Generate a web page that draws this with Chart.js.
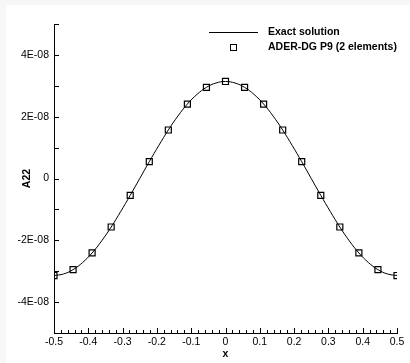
<!DOCTYPE html>
<html>
<head>
<meta charset="utf-8">
<script src="https://cdn.jsdelivr.net/npm/chart.js@4/dist/chart.umd.min.js"></script>
<style>
  html, body { margin: 0; padding: 0; background: #f7f7f7; }
  #wrap { position: absolute; left: 6px; top: 5px; width: 404px; height: 358px; background: #fff; }
</style>
</head>
<body>
<div id="wrap"><canvas id="chart" width="404" height="358"></canvas></div>
<script>
// exact solution curve
const exactX = [-0.5, -0.4722, -0.4444, -0.4167, -0.3889, -0.3611, -0.3333, -0.3056, -0.2778, -0.25,
  -0.2222, -0.1944, -0.1667, -0.1389, -0.1111, -0.0833, -0.0556, -0.0278, 0,
  0.0278, 0.0556, 0.0833, 0.1111, 0.1389, 0.1667, 0.1944, 0.2222, 0.25,
  0.2778, 0.3056, 0.3333, 0.3611, 0.3889, 0.4167, 0.4444, 0.4722, 0.5];
const exactY = [-3.14e-8, -3.09e-8, -2.95e-8, -2.72e-8, -2.41e-8, -2.02e-8, -1.57e-8, -1.07e-8, -0.545e-8, 0,
  0.545e-8, 1.07e-8, 1.57e-8, 2.02e-8, 2.41e-8, 2.72e-8, 2.95e-8, 3.09e-8, 3.14e-8,
  3.09e-8, 2.95e-8, 2.72e-8, 2.41e-8, 2.02e-8, 1.57e-8, 1.07e-8, 0.545e-8, 0,
  -0.545e-8, -1.07e-8, -1.57e-8, -2.02e-8, -2.41e-8, -2.72e-8, -2.95e-8, -3.09e-8, -3.14e-8];

// ADER-DG P9 points
const dgX = [-0.5, -0.4444, -0.3889, -0.3333, -0.2778, -0.2222, -0.1667, -0.1111, -0.0556, 0,
  0.0556, 0.1111, 0.1667, 0.2222, 0.2778, 0.3333, 0.3889, 0.4444, 0.5];
const dgY = [-3.14e-8, -2.95e-8, -2.41e-8, -1.57e-8, -0.545e-8, 0.545e-8, 1.57e-8, 2.41e-8, 2.95e-8, 3.14e-8,
  2.95e-8, 2.41e-8, 1.57e-8, 0.545e-8, -0.545e-8, -1.57e-8, -2.41e-8, -2.95e-8, -3.14e-8];

const seriesNames = ['Exact solution', 'ADER-DG P9 (2 elements)'];
const xTitle = 'x';
const yTitle = 'A22';

const FONT = 'Liberation Sans, Arial, Helvetica, sans-serif';

function yLabel(v) {
    const n = Math.round(v / 1e-8);
    if (n % 2 !== 0) return '';
    if (n === 0) return '0';
    return (n < 0 ? '-' : '') + Math.abs(n) + 'E-08';
}

function xLabel(v) {
    const n = Math.round(v * 100);
    if (n % 10 !== 0) return '';
    if (n === 0) return '0';
    return (n / 100).toFixed(1);
}

// inward ticks + legend
const extras = {
    id: 'extras',
    afterDraw(chart) {
        const ctx = chart.ctx;
        const xs = chart.scales.x, ys = chart.scales.y;
        const area = chart.chartArea;
        ctx.save();
        ctx.strokeStyle = '#000';
        ctx.lineWidth = 1;
        ctx.beginPath();
        xs.ticks.forEach(t => {
            const px = Math.round(xs.getPixelForValue(t.value)) + 0.5;
            const len = t.label ? 5 : 3;
            ctx.moveTo(px, area.bottom);
            ctx.lineTo(px, area.bottom - len);
        });
        ys.ticks.forEach(t => {
            const py = Math.round(ys.getPixelForValue(t.value)) + 0.5;
            ctx.moveTo(area.left, py);
            ctx.lineTo(area.left + 5, py);
        });
        ctx.stroke();

        // legend
        ctx.font = 'bold 10.5px ' + FONT;
        ctx.fillStyle = '#000';
        ctx.textBaseline = 'middle';
        ctx.beginPath();
        ctx.moveTo(203, 27.5);
        ctx.lineTo(252, 27.5);
        ctx.stroke();
        ctx.fillText(chart.data.datasets[0].label, 262, 27);
        ctx.strokeRect(224.5, 39.5, 6, 6);
        ctx.fillText(chart.data.datasets[1].label, 262, 42);
        ctx.restore();
    }
};

new Chart(document.getElementById('chart'), {
    type: 'scatter',
    data: {
        datasets: [{
            label: seriesNames[0],
            data: exactX.map((x, i) => ({ x: x, y: exactY[i] })),
            showLine: true,
            borderColor: '#000',
            borderWidth: 1,
            pointRadius: 0,
            tension: 0.4,
            fill: false
        }, {
            label: seriesNames[1],
            data: dgX.map((x, i) => ({ x: x, y: dgY[i] })),
            showLine: false,
            pointStyle: 'rect',
            pointRadius: 4.25,
            borderColor: '#000',
            borderWidth: 1.2,
            backgroundColor: 'rgba(0,0,0,0)'
        }]
    },
    options: {
        responsive: false,
        animation: false,
        layout: { padding: { top: 19, right: 13, left: 0, bottom: 0 } },
        plugins: { legend: { display: false }, tooltip: { enabled: false } },
        scales: {
            x: {
                type: 'linear',
                min: -0.5,
                max: 0.5,
                afterFit: s => { s.height = 30; },
                grid: { display: true, drawOnChartArea: false, drawTicks: false },
                border: { display: true, color: '#000', width: 1 },
                ticks: {
                    stepSize: 0.02,
                    autoSkip: false,
                    maxRotation: 0,
                    padding: 3,
                    color: '#000',
                    font: { family: FONT, size: 10.5 },
                    callback: v => xLabel(v)
                },
                title: {
                    display: true,
                    text: xTitle,
                    color: '#000',
                    font: { family: FONT, size: 10.5, weight: 'bold' },
                    padding: { top: 0, bottom: 3 }
                }
            },
            y: {
                min: -5e-8,
                max: 5e-8,
                afterFit: s => { s.width = 48; },
                grid: { display: true, drawOnChartArea: false, drawTicks: false },
                border: { display: true, color: '#000', width: 1 },
                ticks: {
                    stepSize: 1e-8,
                    autoSkip: false,
                    padding: 5,
                    color: '#000',
                    font: { family: FONT, size: 10.5 },
                    callback: v => yLabel(v)
                },
                title: {
                    display: true,
                    text: yTitle,
                    color: '#000',
                    font: { family: FONT, size: 10.5, weight: 'bold' },
                    padding: { top: 15, bottom: 0 }
                }
            }
        }
    },
    plugins: [extras]
});
</script>
</body>
</html>
